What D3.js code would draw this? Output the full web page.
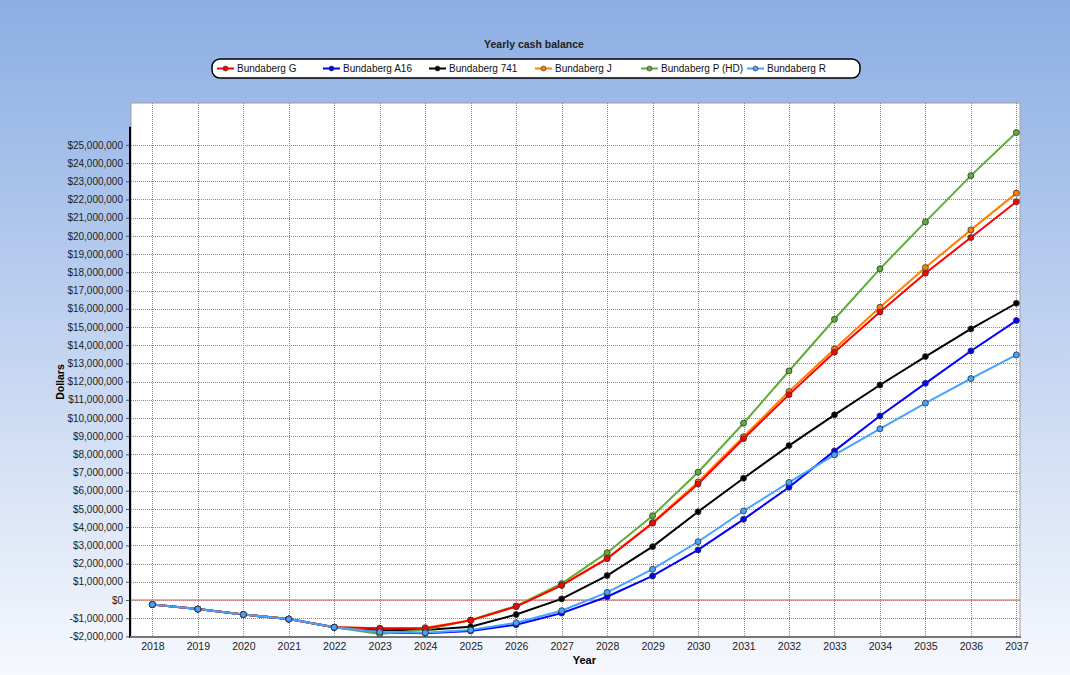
<html><head><title>Yearly cash balance</title>
<style>
    body {
        margin: 0;
        padding: 0;
        font-family: 'Liberation Sans', Arial, sans-serif;
    }
    #chart {
        width: 1070px;
        height: 675px;
    }
    .y-axis .tick text {
        font-size: 10px;
        fill: #222;
    }
    .x-axis .tick text {
        font-size: 10.5px;
        fill: #222;
    }
</style>
<script src="https://cdnjs.cloudflare.com/ajax/libs/d3/7.8.5/d3.min.js"></script>
</head>
<body>
<div id="chart"></div>

<script>
// Years on the x axis
const years = [2018, 2019, 2020, 2021, 2022, 2023, 2024, 2025, 2026, 2027,
               2028, 2029, 2030, 2031, 2032, 2033, 2034, 2035, 2036, 2037];

// Series values in millions of dollars
const bundabergG   = [-0.25, -0.5, -0.8, -1.05, -1.5, -1.55, -1.56, -1.12, -0.36, 0.80,
                      2.27, 4.22, 6.37, 8.86, 11.28, 13.61, 15.82, 17.95, 19.91, 21.88];
const bundabergA16 = [-0.25, -0.5, -0.8, -1.05, -1.5, -1.78, -1.83, -1.70, -1.36, -0.72,
                      0.18, 1.32, 2.75, 4.43, 6.19, 8.19, 10.11, 11.90, 13.68, 15.35];
const bundaberg741 = [-0.25, -0.5, -0.8, -1.05, -1.5, -1.65, -1.65, -1.47, -0.80, 0.06,
                      1.34, 2.93, 4.85, 6.69, 8.48, 10.17, 11.81, 13.37, 14.89, 16.30];
const bundabergJ   = [-0.25, -0.5, -0.8, -1.05, -1.5, -1.56, -1.52, -1.12, -0.36, 0.82,
                      2.29, 4.26, 6.48, 8.97, 11.45, 13.79, 16.08, 18.26, 20.33, 22.35];
const bundabergP   = [-0.25, -0.5, -0.8, -1.05, -1.5, -1.87, -1.63, -1.10, -0.33, 0.90,
                      2.60, 4.63, 7.02, 9.71, 12.58, 15.42, 18.19, 20.77, 23.31, 25.68];
const bundabergR   = [-0.25, -0.5, -0.8, -1.05, -1.5, -1.76, -1.80, -1.65, -1.25, -0.59,
                      0.42, 1.69, 3.20, 4.89, 6.46, 7.97, 9.40, 10.81, 12.16, 13.46];

const seriesNames  = ["Bundaberg G", "Bundaberg A16", "Bundaberg 741", "Bundaberg J", "Bundaberg P (HD)", "Bundaberg R"];
const seriesColors = ["#ff0000", "#0000ff", "#000000", "#ff8000", "#5fac38", "#45a2ff"];
const seriesValues = [bundabergG, bundabergA16, bundaberg741, bundabergJ, bundabergP, bundabergR];

// Y ticks (in dollars)
const yTicks = d3.range(-2000000, 25000001, 1000000);

const width = 1070;
const height = 675;

const svg = d3.select("#chart")
    .append("svg")
    .attr("width", width)
    .attr("height", height);

// Background gradient
const defs = svg.append("defs");
const grad = defs.append("linearGradient")
    .attr("id", "bg")
    .attr("x1", 0).attr("y1", 0).attr("x2", 0).attr("y2", 1);
grad.append("stop").attr("offset", "0%").attr("stop-color", "#8caee4");
grad.append("stop").attr("offset", "100%").attr("stop-color", "#f6f8fd");

svg.append("rect")
    .attr("width", width)
    .attr("height", height)
    .attr("fill", "url(#bg)");

// Plot area
const plotLeft = 131, plotRight = 1020, plotTop = 103, plotBottom = 637;

const x = d3.scaleLinear()
    .domain([2017.53, 2037.08])
    .range([plotLeft, plotRight]);

const y = d3.scaleLinear()
    .domain([-2000000, 27300000])
    .range([636.4, plotTop]);

svg.append("rect")
    .attr("x", plotLeft)
    .attr("y", plotTop)
    .attr("width", plotRight - plotLeft)
    .attr("height", plotBottom - plotTop)
    .attr("fill", "#ffffff")
    .attr("stroke", "#a0a0a0")
    .attr("stroke-width", 1);

// Grid lines
const grid = svg.append("g");
grid.selectAll("line.h")
    .data(yTicks)
    .enter().append("line")
    .attr("x1", plotLeft)
    .attr("x2", plotRight)
    .attr("y1", d => Math.round(y(d)) + 0.5)
    .attr("y2", d => Math.round(y(d)) + 0.5)
    .attr("stroke", "#8a8a8a")
    .attr("stroke-dasharray", "1,1");

grid.selectAll("line.v")
    .data(years)
    .enter().append("line")
    .attr("x1", d => Math.round(x(d)) + 0.5)
    .attr("x2", d => Math.round(x(d)) + 0.5)
    .attr("y1", plotTop)
    .attr("y2", plotBottom)
    .attr("stroke", "#8a8a8a")
    .attr("stroke-dasharray", "1,1");

// Zero line
svg.append("line")
    .attr("x1", plotLeft)
    .attr("x2", plotRight)
    .attr("y1", y(0))
    .attr("y2", y(0))
    .attr("stroke", "#e07070")
    .attr("stroke-opacity", 0.6)
    .attr("stroke-width", 2);

// Axes
const fmt = d => (d < 0 ? "-$" : "$") + d3.format(",")(Math.abs(d));

const yAxis = svg.append("g")
    .attr("class", "y-axis")
    .attr("transform", `translate(${plotLeft - 1},0)`)
    .call(d3.axisLeft(y).tickValues(yTicks).tickFormat(fmt).tickSize(4).tickPadding(3));
yAxis.select(".domain").remove();
yAxis.selectAll(".tick line").attr("stroke", "#555");
svg.append("line")
    .attr("x1", plotLeft - 1).attr("x2", plotLeft - 1)
    .attr("y1", y(26000000)).attr("y2", plotBottom + 1)
    .attr("stroke", "#000")
    .attr("stroke-width", 2);

const xAxis = svg.append("g")
    .attr("class", "x-axis")
    .attr("transform", `translate(0,${plotBottom})`)
    .call(d3.axisBottom(x).tickValues(years).tickFormat(d3.format("d")).tickSize(0).tickPadding(6));
xAxis.select(".domain").remove();
svg.append("line")
    .attr("x1", plotLeft - 1).attr("x2", plotRight + 1)
    .attr("y1", plotBottom).attr("y2", plotBottom)
    .attr("stroke", "#777")
    .attr("stroke-width", 2);

// Axis titles
svg.append("text")
    .attr("x", x(2027.5))
    .attr("y", 664)
    .attr("text-anchor", "middle")
    .attr("font-size", 11)
    .attr("font-weight", "bold")
    .text("Year");

svg.append("text")
    .attr("transform", "translate(64,382) rotate(-90)")
    .attr("text-anchor", "middle")
    .attr("font-size", 10.5)
    .attr("font-weight", "bold")
    .text("Dollars");

// Title
svg.append("text")
    .attr("x", 534)
    .attr("y", 48)
    .attr("text-anchor", "middle")
    .attr("font-size", 10.5)
    .attr("font-weight", "bold")
    .attr("fill", "#222")
    .text("Yearly cash balance");

// Lines
const line = d3.line()
    .x((d, i) => x(years[i]))
    .y(d => y(d * 1000000));

const series = seriesValues.map((vals, i) => ({ name: seriesNames[i], color: seriesColors[i], values: vals }));

// draw in an order that keeps overlaps similar to the reference
const drawOrder = [1, 2, 4, 3, 0, 5];
drawOrder.forEach(i => {
    const s = series[i];
    svg.append("path")
        .datum(s.values)
        .attr("d", line)
        .attr("fill", "none")
        .attr("stroke", s.color)
        .attr("stroke-width", 2);
});
drawOrder.forEach(i => {
    const s = series[i];
    svg.append("g")
        .selectAll("circle")
        .data(s.values)
        .enter().append("circle")
        .attr("cx", (d, j) => x(years[j]))
        .attr("cy", d => y(d * 1000000))
        .attr("r", 3)
        .attr("fill", s.color)
        .attr("stroke", "#333")
        .attr("stroke-width", 0.8);
});

// Legend
const legend = svg.append("g");
legend.append("rect")
    .attr("x", 212)
    .attr("y", 59)
    .attr("width", 648)
    .attr("height", 19)
    .attr("rx", 8)
    .attr("fill", "#ffffff")
    .attr("stroke", "#000")
    .attr("stroke-width", 1.5);

series.forEach((s, i) => {
    const g = legend.append("g").attr("transform", `translate(${217 + i * 106},68.5)`);
    g.append("line")
        .attr("x1", 0).attr("x2", 17)
        .attr("stroke", s.color)
        .attr("stroke-width", 2);
    g.append("circle")
        .attr("cx", 8.5).attr("r", 2.5)
        .attr("fill", s.color)
        .attr("stroke", "#333")
        .attr("stroke-width", 0.6);
    g.append("text")
        .attr("x", 20)
        .attr("y", 3.5)
        .attr("font-size", 10)
        .attr("fill", "#111")
        .text(s.name);
});
</script>
</body>
</html>
